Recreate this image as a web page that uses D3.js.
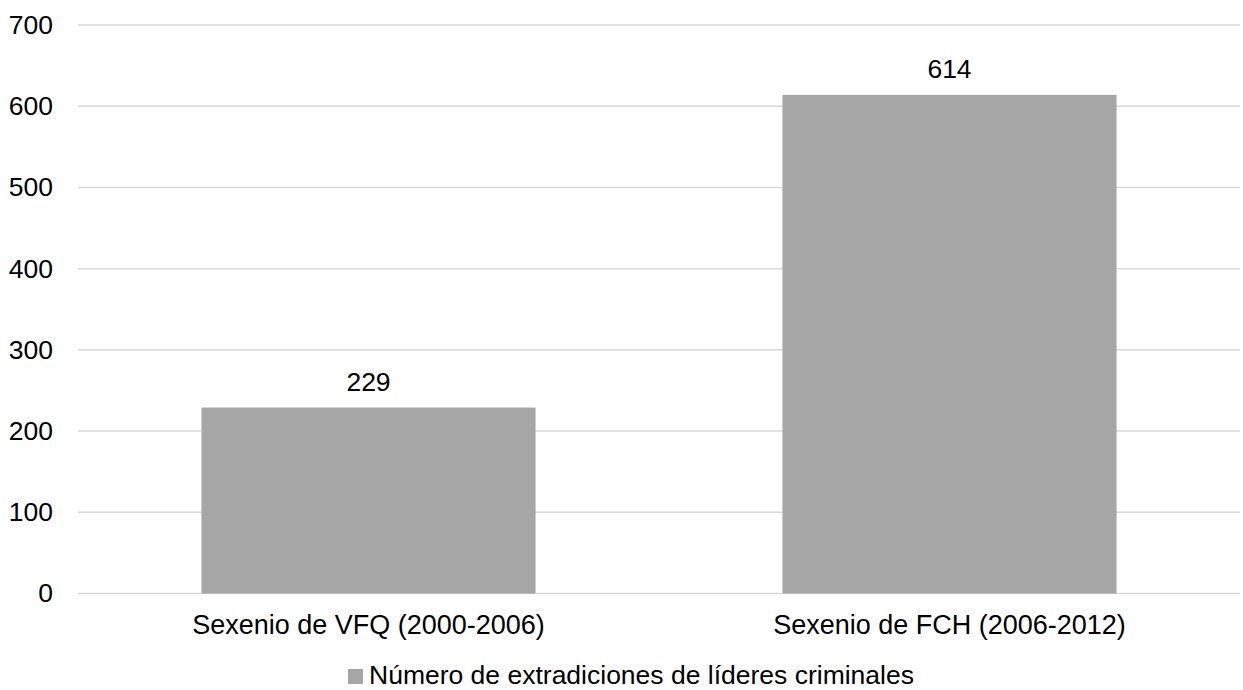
<!DOCTYPE html>
<html>
<head>
<meta charset="utf-8">
<script src="https://cdn.jsdelivr.net/npm/d3@7"></script>
<style>
  html, body { margin: 0; padding: 0; background: #fff; }
  svg { display: block; font-family: "Liberation Sans", Arial, sans-serif; }
</style>
</head>
<body>
<svg id="chart" width="1243" height="690"></svg>
<script>
// Extradiciones por sexenio
const categories = ["Sexenio de VFQ (2000-2006)", "Sexenio de FCH (2006-2012)"];
const values = [229, 614];
const yTicks = [0, 100, 200, 300, 400, 500, 600, 700];
const seriesName = "Número de extradiciones de líderes criminales";

const svg = d3.select("#chart");
const margin = { top: 25, right: 3, bottom: 96.5, left: 78 };
const width = 1243 - margin.left - margin.right;
const height = 690 - margin.top - margin.bottom;

const g = svg.append("g").attr("transform", `translate(${margin.left},${margin.top})`);

const x = d3.scaleBand().domain(categories).range([0, width])
  .paddingInner(0.425).paddingOuter(0.2125);
const y = d3.scaleLinear().domain([0, 700]).range([height, 0]);

// gridlines
g.append("g").selectAll("line").data(yTicks).join("line")
  .attr("x1", 0).attr("x2", width)
  .attr("y1", d => y(d)).attr("y2", d => y(d))
  .attr("stroke", "#d9d9d9").attr("stroke-width", 1.5);

// y axis labels
const yAxis = g.append("g").call(d3.axisLeft(y).tickValues(yTicks).tickSize(0).tickPadding(25));
yAxis.select(".domain").remove();
yAxis.selectAll("text").attr("font-size", 26.5).attr("fill", "#000")
  .attr("font-family", "Liberation Sans, Arial, sans-serif");

// bars
g.append("g").selectAll("rect").data(values).join("rect")
  .attr("x", (d, i) => x(categories[i]))
  .attr("width", x.bandwidth())
  .attr("y", d => y(d))
  .attr("height", d => y(0) - y(d))
  .attr("fill", "#a6a6a6");

// value labels
g.append("g").selectAll("text").data(values).join("text")
  .attr("x", (d, i) => x(categories[i]) + x.bandwidth() / 2)
  .attr("y", d => y(d) - 17)
  .attr("text-anchor", "middle")
  .attr("font-size", 26.5).attr("fill", "#000")
  .text(d => d);

// x axis labels
const xAxis = g.append("g").attr("transform", `translate(0,${height})`)
  .call(d3.axisBottom(x).tickSize(0).tickPadding(0));
xAxis.select(".domain").remove();
xAxis.selectAll("text").attr("font-size", 27).attr("fill", "#000")
  .attr("dy", null).attr("y", 40.5)
  .attr("font-family", "Liberation Sans, Arial, sans-serif");

// legend
const legend = svg.append("g").attr("transform", "translate(348,669)");
legend.append("rect").attr("x", 0).attr("y", 0).attr("width", 15).attr("height", 15).attr("fill", "#a6a6a6");
legend.append("text").attr("x", 21).attr("y", 15).attr("font-size", 26.5).attr("fill", "#000").text(seriesName);
</script>
</body>
</html>
